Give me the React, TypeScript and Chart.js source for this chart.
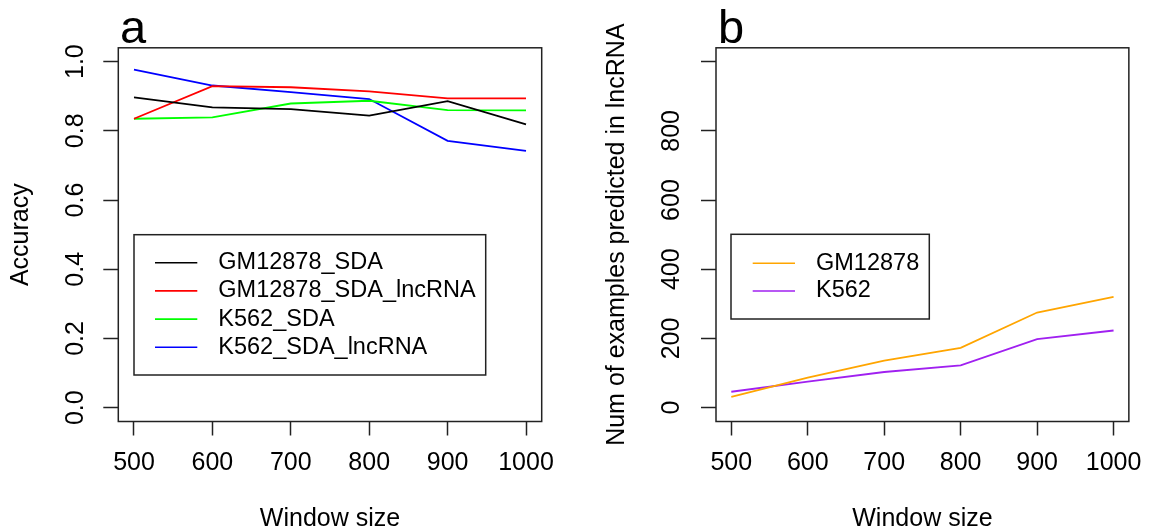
import React, { useEffect, useRef } from "react";
import { Chart, registerables } from "chart.js";

Chart.register(...registerables);

// ---------- data ----------
const windowSizes = [500, 600, 700, 800, 900, 1000];

const gm12878SDA = [0.897, 0.868, 0.863, 0.844, 0.886, 0.819];
const gm12878SDALnc = [0.835, 0.929, 0.926, 0.914, 0.894, 0.894];
const k562SDA = [0.835, 0.839, 0.879, 0.887, 0.86, 0.859];
const k562SDALnc = [0.977, 0.931, 0.912, 0.892, 0.771, 0.742];

const gm12878Count = [31, 87, 136, 173, 275, 320];
const k562Count = [46, 75, 103, 122, 198, 223];

const accuracyTicks = [0, 0.2, 0.4, 0.6, 0.8, 1.0];
const countTicks = [0, 200, 400, 600, 800, 1000];
const countTickLabels = ["0", "200", "400", "600", "800", ""];

const FONT = "'Liberation Sans', Arial, Helvetica, sans-serif";

const framePlugin = {
  id: "frame",
  afterDraw(chart: any, _args: any, opts: any) {
    const { ctx, chartArea: ca } = chart;
    ctx.save();
    ctx.strokeStyle = "#222";
    ctx.lineWidth = 1.5;
    ctx.strokeRect(ca.left, ca.top, ca.right - ca.left, ca.bottom - ca.top);

    // panel letter
    ctx.fillStyle = "#000";
    ctx.font = `47px ${FONT}`;
    ctx.textAlign = "left";
    ctx.textBaseline = "alphabetic";
    ctx.fillText(opts.letter, opts.letterX, opts.letterY);

    // legend
    const lg = opts.legend;
    ctx.fillStyle = "#fff";
    ctx.fillRect(lg.x, lg.y, lg.w, lg.h);
    ctx.strokeStyle = "#222";
    ctx.lineWidth = 1.5;
    ctx.strokeRect(lg.x, lg.y, lg.w, lg.h);
    ctx.font = `23.5px ${FONT}`;
    ctx.textBaseline = "middle";
    chart.data.datasets.forEach((ds: any, i: number) => {
      const y = lg.row0 + i * lg.rowH;
      ctx.strokeStyle = ds.borderColor;
      ctx.lineWidth = 1.6;
      ctx.beginPath();
      ctx.moveTo(lg.l0, y);
      ctx.lineTo(lg.l1, y);
      ctx.stroke();
      ctx.fillStyle = "#000";
      ctx.fillText(ds.label, lg.tx, y);
    });
    ctx.restore();
  },
};

function makeConfig(p: any) {
  return {
    type: "line",
    data: {
      datasets: p.series.map((s: any) => ({
        label: s.label,
        data: windowSizes.map((x, i) => ({ x, y: s.values[i] })),
        borderColor: s.color,
        backgroundColor: s.color,
        borderWidth: 1.8,
        pointRadius: 0,
        tension: 0,
        fill: false,
      })),
    },
    options: {
      animation: false,
      responsive: false,
      events: [],
      layout: { padding: p.padding },
      plugins: {
        legend: { display: false },
        tooltip: { enabled: false },
        frame: p.frame,
      },
      scales: {
        x: {
          type: "linear",
          min: 480,
          max: 1020,
          afterBuildTicks: (scale: any) => {
            scale.ticks = windowSizes.map((v) => ({ value: v }));
          },
          afterFit: (scale: any) => {
            scale.height = p.xAxisHeight;
          },
          grid: {
            display: true,
            drawOnChartArea: false,
            drawTicks: true,
            tickLength: 14,
            tickColor: "#222",
            tickWidth: 1.5,
          },
          border: { display: false },
          ticks: {
            color: "#000",
            font: { family: FONT, size: 25, lineHeight: 1.2 },
            padding: 13,
            minRotation: 0,
            maxRotation: 0,
            autoSkip: false,
            callback: (v: any) => String(v),
          },
          title: {
            display: true,
            text: "Window size",
            color: "#000",
            font: { family: FONT, size: 25, lineHeight: 0.94 },
            padding: { top: 0, bottom: 0 },
          },
        },
        y: {
          type: "linear",
          min: p.yMin,
          max: p.yMax,
          afterBuildTicks: (scale: any) => {
            scale.ticks = p.yTicks.map((v: number) => ({ value: v }));
          },
          afterFit: (scale: any) => {
            scale.width = p.yAxisWidth;
          },
          grid: {
            display: true,
            drawOnChartArea: false,
            drawTicks: true,
            tickLength: 15,
            tickColor: "#222",
            tickWidth: 1.5,
          },
          border: { display: false },
          ticks: {
            color: "#000",
            font: { family: FONT, size: 25, lineHeight: 1.2 },
            padding: p.yTickPad,
            minRotation: 90,
            maxRotation: 90,
            crossAlign: "center",
            autoSkip: false,
            callback: p.yTickCallback,
          },
          title: {
            display: true,
            text: p.yTitle,
            color: "#000",
            font: { family: FONT, size: 25, lineHeight: 1.2 },
            padding: { top: p.yTitlePad, bottom: 0 },
          },
        },
      },
    },
    plugins: [framePlugin],
  };
}

const panelA = {
  series: [
    { label: "GM12878_SDA", values: gm12878SDA, color: "#000000" },
    { label: "GM12878_SDA_lncRNA", values: gm12878SDALnc, color: "#FF0000" },
    { label: "K562_SDA", values: k562SDA, color: "#00FF00" },
    { label: "K562_SDA_lncRNA", values: k562SDALnc, color: "#0000FF" },
  ],
  padding: { left: 0, top: 47.8, right: 35.3, bottom: 0 },
  xAxisHeight: 109.5,
  yAxisWidth: 118.3,
  yMin: -0.04,
  yMax: 1.04,
  yTicks: accuracyTicks,
  yTickPad: 10,
  yTickCallback: (v: any) => Number(v).toFixed(1),
  yTitle: "Accuracy",
  yTitlePad: 6.5,
  frame: {
    letter: "a",
    letterX: 120,
    letterY: 42.5,
    legend: { x: 134, y: 234.7, w: 351.7, h: 140.3, l0: 155, l1: 197.3, tx: 218.3, row0: 262.7, rowH: 28.2 },
  },
};

const panelB = {
  series: [
    { label: "GM12878", values: gm12878Count, color: "#FFA500" },
    { label: "K562", values: k562Count, color: "#A020F0" },
  ],
  padding: { left: 0, top: 47.8, right: 17, bottom: 0 },
  xAxisHeight: 109.5,
  yAxisWidth: 139,
  yMin: -40,
  yMax: 1040,
  yTicks: countTicks,
  yTickPad: 8.5,
  yTickCallback: (v: any) => {
    const i = countTicks.indexOf(Number(v));
    return i >= 0 ? countTickLabels[i] : "";
  },
  yTitle: "Num of examples predicted in lncRNA",
  yTitlePad: 25,
  frame: {
    letter: "b",
    letterX: 141,
    letterY: 42.5,
    legend: { x: 154, y: 234.3, w: 198.3, h: 84.7, l0: 175.7, l1: 218, tx: 239, row0: 263.3, rowH: 27.7 },
  },
};

function Panel({ cfg, left, width }: { cfg: any; left: number; width: number }) {
  const ref = useRef<HTMLCanvasElement | null>(null);
  useEffect(() => {
    if (!ref.current) return;
    const chart = new Chart(ref.current, makeConfig(cfg) as any);
    return () => chart.destroy();
  }, [cfg]);
  return (
    <canvas
      ref={ref}
      width={width}
      height={531}
      style={{ position: "absolute", left, top: 0, width, height: 531, display: "block" }}
    />
  );
}

export default function App() {
  return (
    <div
      style={{
        position: "fixed",
        left: 0,
        top: 0,
        width: 1155,
        height: 531,
        background: "#fff",
        overflow: "hidden",
      }}
    >
      <Panel cfg={panelA} left={0} width={577} />
      <Panel cfg={panelB} left={577} width={578} />
    </div>
  );
}
